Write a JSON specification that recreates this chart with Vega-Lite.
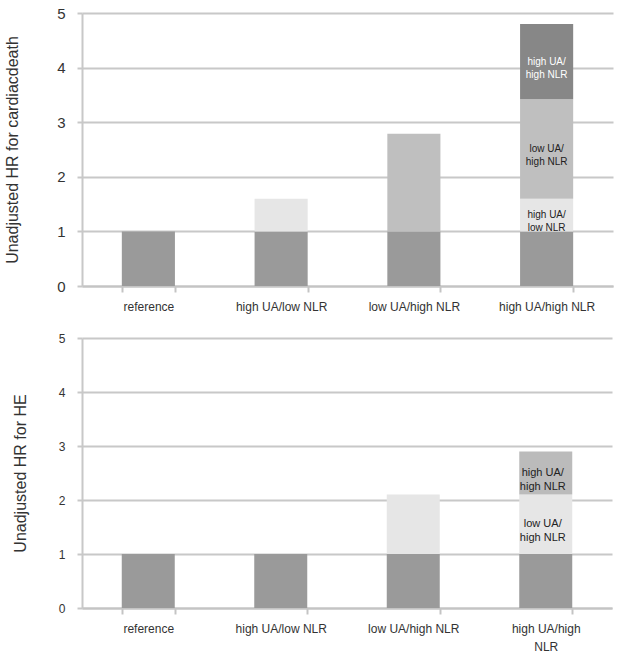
{
  "$schema": "https://vega.github.io/schema/vega-lite/v6.json",
  "background": "white",
  "padding": {"left": 3, "top": 6, "right": 10, "bottom": 4},
  "datasets": {
    "cardiac": [
      {"group": "reference", "part": "base", "lo": 0, "hi": 1, "label": null},
      {"group": "high UA/low NLR", "part": "base", "lo": 0, "hi": 1, "label": null},
      {"group": "high UA/low NLR", "part": "high UA/low NLR", "lo": 1, "hi": 1.6, "label": null},
      {"group": "low UA/high NLR", "part": "base", "lo": 0, "hi": 1, "label": null},
      {"group": "low UA/high NLR", "part": "low UA/high NLR", "lo": 1, "hi": 2.79, "label": null},
      {"group": "high UA/high NLR", "part": "base", "lo": 0, "hi": 1, "label": null},
      {"group": "high UA/high NLR", "part": "high UA/low NLR", "lo": 1, "hi": 1.6, "label": "high UA/\nlow NLR"},
      {"group": "high UA/high NLR", "part": "low UA/high NLR", "lo": 1.6, "hi": 3.42, "label": "low UA/\nhigh NLR"},
      {"group": "high UA/high NLR", "part": "high UA/high NLR", "lo": 3.42, "hi": 4.8, "label": "high UA/\nhigh NLR"}
    ],
    "he": [
      {"group": "reference", "part": "base", "lo": 0, "hi": 1, "label": null},
      {"group": "high UA/low NLR", "part": "base", "lo": 0, "hi": 1, "label": null},
      {"group": "low UA/high NLR", "part": "base", "lo": 0, "hi": 1, "label": null},
      {"group": "low UA/high NLR", "part": "low UA/high NLR", "lo": 1, "hi": 2.1, "label": null},
      {"group": "high UA/high NLR", "part": "base", "lo": 0, "hi": 1, "label": null},
      {"group": "high UA/high NLR", "part": "low UA/high NLR", "lo": 1, "hi": 2.1, "label": "low UA/\nhigh NLR"},
      {"group": "high UA/high NLR", "part": "high UA/high NLR", "lo": 2.1, "hi": 2.9, "label": "high UA/\nhigh NLR"}
    ]
  },
  "spacing": 20,
  "resolve": {"scale": {"color": "independent"}},
  "vconcat": [
    {
      "width": 531,
      "height": 273,
      "data": {"name": "cardiac"},
      "layer": [
        {
          "mark": {"type": "bar"},
          "encoding": {
            "x": {
              "field": "group",
              "type": "nominal",
              "sort": ["reference", "high UA/low NLR", "low UA/high NLR", "high UA/high NLR"],
              "scale": {"paddingInner": 0.6, "paddingOuter": 0.3},
              "axis": {"title": null, "labelFontSize": 12, "labelPadding": 9}
            },
            "y": {
              "field": "lo",
              "type": "quantitative",
              "scale": {"domain": [0, 5], "nice": false},
              "axis": {
                "title": "Unadjusted HR for cardiacdeath",
                "values": [0, 1, 2, 3, 4, 5],
                "labelFontSize": 15,
                "titleFontSize": 16,
                "titleX": -62
              }
            },
            "y2": {"field": "hi"},
            "color": {
              "field": "part",
              "type": "nominal",
              "scale": {
                "domain": ["base", "high UA/low NLR", "low UA/high NLR", "high UA/high NLR"],
                "range": ["#9a9a9a", "#e6e6e6", "#bfbfbf", "#878787"]
              },
              "legend": null
            }
          }
        },
        {
          "transform": [
            {"filter": "datum.label != null"},
            {"fold": ["lo", "hi"], "as": ["end", "v"]},
            {"aggregate": [{"op": "mean", "field": "v", "as": "mid"}], "groupby": ["group", "part", "label"]}
          ],
          "mark": {"type": "text", "lineBreak": "\n", "fontSize": 10, "lineHeight": 13},
          "encoding": {
            "x": {"field": "group", "type": "nominal", "sort": ["reference", "high UA/low NLR", "low UA/high NLR", "high UA/high NLR"]},
            "y": {"field": "mid", "type": "quantitative"},
            "text": {"field": "label"},
            "color": {"condition": {"test": "datum.part == 'high UA/high NLR'", "value": "#ffffff"}, "value": "#222222"}
          }
        }
      ]
    },
    {
      "width": 530,
      "height": 270,
      "data": {"name": "he"},
      "layer": [
        {
          "mark": {"type": "bar"},
          "encoding": {
            "x": {
              "field": "group",
              "type": "nominal",
              "sort": ["reference", "high UA/low NLR", "low UA/high NLR", "high UA/high NLR"],
              "scale": {"paddingInner": 0.6, "paddingOuter": 0.3},
              "axis": {
                "title": null,
                "labelFontSize": 12,
                "labelPadding": 9,
                "labelLineHeight": 18,
                "labelExpr": "datum.value == 'high UA/high NLR' ? ['high UA/high', 'NLR'] : datum.value"
              }
            },
            "y": {
              "field": "lo",
              "type": "quantitative",
              "scale": {"domain": [0, 5], "nice": false},
              "axis": {
                "title": "Unadjusted HR for HE",
                "values": [0, 1, 2, 3, 4, 5],
                "labelFontSize": 12,
                "titleFontSize": 16,
                "titleX": -54
              }
            },
            "y2": {"field": "hi"},
            "color": {
              "field": "part",
              "type": "nominal",
              "scale": {
                "domain": ["base", "low UA/high NLR", "high UA/high NLR"],
                "range": ["#9a9a9a", "#e6e6e6", "#bbbbbb"]
              },
              "legend": null
            }
          }
        },
        {
          "transform": [
            {"filter": "datum.label != null"},
            {"fold": ["lo", "hi"], "as": ["end", "v"]},
            {"aggregate": [{"op": "mean", "field": "v", "as": "mid"}], "groupby": ["group", "part", "label"]}
          ],
          "mark": {"type": "text", "lineBreak": "\n", "fontSize": 11, "lineHeight": 14, "dx": -3},
          "encoding": {
            "x": {"field": "group", "type": "nominal", "sort": ["reference", "high UA/low NLR", "low UA/high NLR", "high UA/high NLR"]},
            "y": {"field": "mid", "type": "quantitative"},
            "text": {"field": "label"},
            "color": {"value": "#222222"}
          }
        }
      ]
    }
  ],
  "config": {
    "font": "Liberation Sans",
    "view": {"stroke": null},
    "axisX": {
      "labelAngle": 0,
      "tickBand": "extent",
      "ticks": true,
      "tickSize": 6,
      "tickColor": "#c4c4c4",
      "tickWidth": 2,
      "domainColor": "#c4c4c4",
      "domainWidth": 2,
      "grid": false,
      "labelColor": "#333333"
    },
    "axisY": {
      "grid": true,
      "gridColor": "#c8c8c8",
      "gridWidth": 2,
      "domainColor": "#c8c8c8",
      "domainWidth": 2,
      "ticks": true,
      "tickSize": 5,
      "tickColor": "#c8c8c8",
      "tickWidth": 2,
      "labelPadding": 12,
      "labelColor": "#333333",
      "titleColor": "#333333",
      "titleFontWeight": "normal"
    }
  }
}
